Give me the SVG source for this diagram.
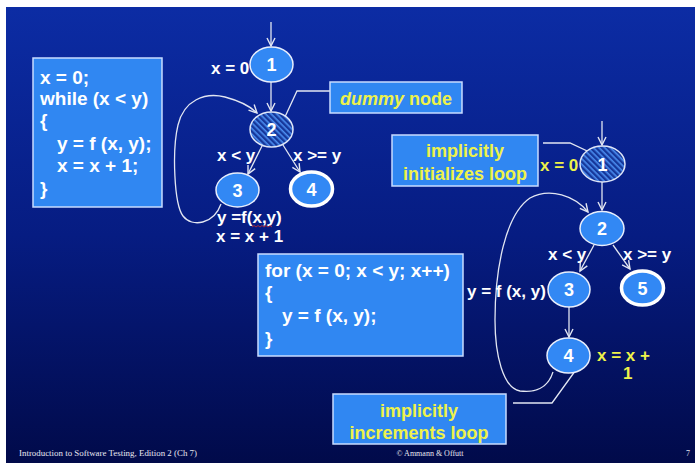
<svg xmlns="http://www.w3.org/2000/svg" width="696" height="466" viewBox="0 0 696 466">
<defs>
<linearGradient id="bg" x1="0" y1="0" x2="0" y2="1">
<stop offset="0" stop-color="#0c2ca4"/>
<stop offset="0.5" stop-color="#061c82"/>
<stop offset="1" stop-color="#010a4a"/>
</linearGradient>
<pattern id="hatch" patternUnits="userSpaceOnUse" width="4" height="4" patternTransform="rotate(45)">
<rect width="4" height="4" fill="#16379a"/>
<rect y="0" width="4" height="1.6" fill="#4b8df0"/>
</pattern>
<marker id="arr" markerUnits="userSpaceOnUse" markerWidth="12" markerHeight="12" refX="9" refY="5" orient="auto">
<path d="M1,1 L9,5 L1,9" fill="none" stroke="#e2e6f2" stroke-width="1.4"/>
</marker>
<style>
.node{fill:#3288f4;stroke:#e8eefc;stroke-width:1.5}
.final{fill:#3288f4;stroke:#ffffff;stroke-width:3.5}
.hat{fill:url(#hatch);stroke:#dfe6f8;stroke-width:1.5}
.num{font-family:"Liberation Sans",Arial,sans-serif;font-weight:bold;font-size:18px;fill:#ffffff;text-anchor:middle}
.lbl{font-family:"Liberation Sans",Arial,sans-serif;font-weight:bold;font-size:17px;fill:#ffffff}
.ylbl{font-family:"Liberation Sans",Arial,sans-serif;font-weight:bold;font-size:17px;fill:#eef24a}
.box{fill:#3087f2;stroke:#c8dcff;stroke-width:1.5}
.code{font-family:"Liberation Sans",Arial,sans-serif;font-weight:bold;font-size:19px;fill:#ffffff}
.note{font-family:"Liberation Sans",Arial,sans-serif;font-weight:bold;font-size:18px;fill:#eef24a;text-anchor:middle}
.edge{fill:none;stroke:#e2e6f2;stroke-width:1.3}
.foot{font-family:"Liberation Serif","Times New Roman",serif;font-size:8px;fill:#e8e8f0}
</style>
</defs>
<rect width="696" height="466" fill="#ffffff"/>
<rect x="6" y="7" width="689" height="456" fill="url(#bg)"/>

<g id="code-while">
<rect class="box" x="33" y="58" width="129" height="149"/>
<text class="code" x="40" y="84">x = 0;</text>
<text class="code" x="40" y="105">while (x &lt; y)</text>
<text class="code" x="40" y="127">{</text>
<text class="code" x="57" y="150">y = f (x, y);</text>
<text class="code" x="57" y="172">x = x + 1;</text>
<text class="code" x="40" y="195">}</text>
</g>

<g id="code-for">
<rect class="box" x="258" y="254" width="205" height="102"/>
<text class="code" x="265" y="277">for (x = 0; x &lt; y; x++)</text>
<text class="code" x="265" y="299">{</text>
<text class="code" x="282" y="322">y = f (x, y);</text>
<text class="code" x="265" y="345">}</text>
</g>

<g id="connectors">
<!-- left graph -->
<line class="edge" x1="271" y1="22" x2="271" y2="46" marker-end="url(#arr)"/>
<line class="edge" x1="271" y1="82" x2="271" y2="111" marker-end="url(#arr)"/>
<line class="edge" x1="262" y1="146" x2="248" y2="174" marker-end="url(#arr)"/>
<line class="edge" x1="283" y1="145" x2="300" y2="172" marker-end="url(#arr)"/>
<path class="edge" d="M221,204 C214,224 192,228 183,216 C174,204 172,150 178,125 C184,100 205,92 225,97 C240,101 250,106 257,113" marker-end="url(#arr)"/>
<polyline class="edge" points="330,91 297,91 284,119"/>
<!-- right graph -->
<line class="edge" x1="602" y1="121" x2="602" y2="145" marker-end="url(#arr)"/>
<line class="edge" x1="602" y1="182" x2="602" y2="210" marker-end="url(#arr)"/>
<line class="edge" x1="594" y1="245" x2="580" y2="271" marker-end="url(#arr)"/>
<line class="edge" x1="613" y1="245" x2="630" y2="269" marker-end="url(#arr)"/>
<line class="edge" x1="569" y1="307" x2="569" y2="337" marker-end="url(#arr)"/>
<path class="edge" d="M553,372 C548,388 535,393 520,391 C503,388 495,355 495,320 C495,270 505,215 530,198 C550,187 575,196 588,212" marker-end="url(#arr)"/>
<polyline class="edge" points="543,143 570,143 600,157"/>
<polyline class="edge" points="513,403 552,403 578,367"/>
</g>

<g id="left-n1">
<ellipse class="node" cx="271.5" cy="64.5" rx="21.5" ry="17.5"/>
<text class="num" x="271.5" y="71">1</text>
</g>
<g id="left-n2">
<ellipse class="hat" cx="271.5" cy="129.5" rx="21.5" ry="17.5"/>
<text class="num" x="271.5" y="136">2</text>
</g>
<g id="left-n3">
<ellipse class="node" cx="237.5" cy="190" rx="21.5" ry="17"/>
<text class="num" x="237.5" y="196.5">3</text>
</g>
<g id="left-n4">
<ellipse class="final" cx="311.5" cy="189" rx="21" ry="17"/>
<text class="num" x="311.5" y="195.5">4</text>
</g>

<g id="left-labels">
<text class="lbl" x="211" y="74">x = 0</text>
<text class="lbl" x="217" y="161">x &lt; y</text>
<text class="lbl" x="293" y="161">x &gt;= y</text>
<text class="lbl" x="217" y="223">y =f(x,y)</text>
<path d="M252,227 l2,-1.5 l2,1.5 l2,-1.5 l2,1.5 l2,-1.5 l2,1.5 l2,-1.5 l2,1.5 l2,-1.5 l2,1.5" fill="none" stroke="#d0302a" stroke-width="0.8"/>
<text class="lbl" x="216" y="242">x = x + 1</text>
</g>

<g id="dummy-note">
<rect class="box" x="330" y="82" width="132" height="31"/>
<text class="note" x="396" y="105"><tspan font-style="italic">dummy</tspan> node</text>
</g>

<g id="init-note">
<rect class="box" x="392" y="135" width="146" height="51"/>
<text class="note" x="465" y="157">implicitly</text>
<text class="note" x="465" y="180">initializes loop</text>
</g>

<g id="incr-note">
<rect class="box" x="333" y="394" width="173" height="50"/>
<text class="note" x="419" y="417">implicitly</text>
<text class="note" x="419" y="439">increments loop</text>
</g>

<g id="right-n1">
<ellipse class="hat" cx="602.5" cy="164" rx="22.5" ry="18"/>
<text class="num" x="602.5" y="170.5">1</text>
</g>
<g id="right-n2">
<ellipse class="node" cx="602" cy="228.5" rx="22" ry="17"/>
<text class="num" x="602" y="235">2</text>
</g>
<g id="right-n3">
<ellipse class="node" cx="569" cy="289.5" rx="21" ry="17.5"/>
<text class="num" x="569" y="296">3</text>
</g>
<g id="right-n5">
<ellipse class="final" cx="642.5" cy="288" rx="21" ry="17"/>
<text class="num" x="642.5" y="294.5">5</text>
</g>
<g id="right-n4">
<ellipse class="node" cx="568.5" cy="355.5" rx="21.5" ry="17.5"/>
<text class="num" x="568.5" y="362">4</text>
</g>

<g id="right-labels">
<text class="ylbl" x="540" y="171">x = 0</text>
<text class="lbl" x="548" y="260">x &lt; y</text>
<text class="lbl" x="623" y="260">x &gt;= y</text>
<text class="lbl" x="467" y="297">y = f (x, y)</text>
<text class="ylbl" x="597" y="361">x = x +</text>
<text class="ylbl" x="623" y="379">1</text>
</g>

<g id="footer">
<text class="foot" x="19" y="456" textLength="178" lengthAdjust="spacingAndGlyphs">Introduction to Software Testing, Edition 2  (Ch 7)</text>
<text class="foot" x="430" y="456" text-anchor="middle">© Ammann &amp; Offutt</text>
<text class="foot" x="688" y="456" text-anchor="middle">7</text>
</g>
</svg>
